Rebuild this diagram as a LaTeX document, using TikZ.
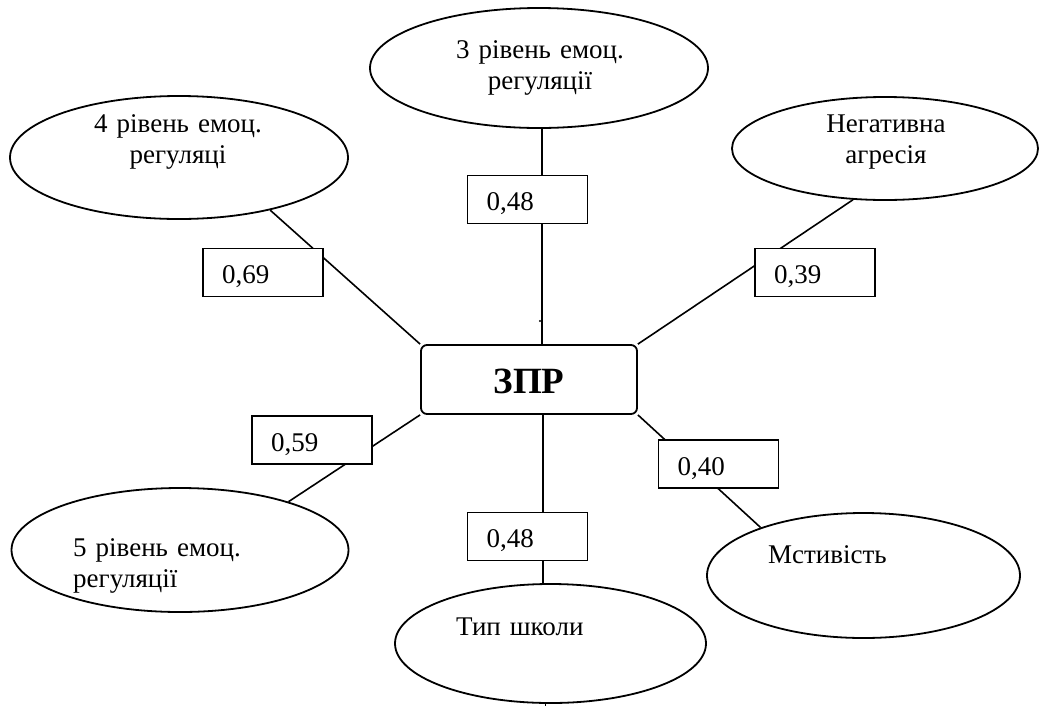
\documentclass[tikz,border=0pt]{standalone}
\usepackage{fontspec}
\setmainfont{Liberation Serif}
\usetikzlibrary{shapes.geometric}
\begin{document}
\begin{tikzpicture}[x=1pt,y=-1pt,
  oval/.style={ellipse,draw,line width=1.8pt,inner sep=0pt},
  valbox/.style={rectangle,draw,line width=1.8pt,fill=white,minimum width=120pt,minimum height=48pt,
    text width=82pt,inner xsep=19pt,inner ysep=0pt,align=left,text height=22pt,text depth=0pt,
    font=\fontsize{27}{31}\selectfont},
  etext/.style={inner sep=0pt,text width=320pt,font=\fontsize{27}{31}\selectfont},
  link/.style={line width=1.6pt}]
\useasboundingbox (0,0) rectangle (1039,705);
% ellipses
\node[oval,minimum width=338pt,minimum height=120pt] (e3) at (539,68) {};
\node[oval,minimum width=338pt,minimum height=123pt] (e4) at (179,157.5) {};
\node[oval,minimum width=306pt,minimum height=103pt] (ena) at (885,148.5) {};
\node[oval,minimum width=337pt,minimum height=124pt] (e5) at (180,550) {};
\node[oval,minimum width=313pt,minimum height=125pt] (em) at (863.5,575.5) {};
\node[oval,minimum width=311pt,minimum height=119pt] (et) at (550.5,643.5) {};
% ellipse texts
\node[etext,align=center,anchor=base] (t3) at (540,58) {3 рівень емоц.\\ регуляції};
\node[etext,align=center,anchor=base] (t4) at (178,132) {4 рівень емоц.\\ регуляці};
\node[etext,align=center,anchor=base] (tna) at (886,132) {Негативна\\ агресія};
\node[etext,align=left,anchor=base west] (t5) at (73,556.5) {5 рівень емоц.\\ регуляції};
\node[etext,align=left,anchor=base west] (tm) at (768,563) {Мстивість};
\node[etext,align=left,anchor=base west] (tt) at (456,635) {Тип школи};
% centre
\node[draw,rounded corners=6pt,line width=1.8pt,minimum width=216pt,minimum height=69pt,inner sep=0pt,
  font=\fontsize{37}{40}\selectfont\bfseries,text height=27.6pt,text depth=0pt] (zpr) at (529,379.5) {ЗПР};
% connectors
\draw[link] (e4.-30) -- (zpr.north west);
\draw[link] ([xshift=3pt]e3.south) -- ([xshift=3pt]e3.south |- zpr.north);
\draw[link] (ena.238) -- (zpr.north east);
\draw[link] (e5.24) -- (zpr.south west);
\draw[link] (zpr.south east) -- (em.155);
\draw[link] ([xshift=14pt]zpr.south) -- ([xshift=14pt]zpr.south |- et.north);
\coordinate (tickend) at ([xshift=-5pt,yshift=-4pt]et.south);
\draw[line width=1pt] ([xshift=-5pt]et.south) -- (tickend);
\node[circle,fill,inner sep=0pt,minimum size=2.2pt] (dot) at (540,321) {};
% value boxes
\node[valbox] (b69) at (263,272.5) {0,69};
\node[valbox] (b48t) at (527.5,199.5) {0,48};
\node[valbox] (b39) at (815,272.5) {0,39};
\node[valbox] (b59) at (312,440) {0,59};
\node[valbox] (b40) at (718.5,464) {0,40};
\node[valbox] (b48b) at (527.5,536.5) {0,48};
\end{tikzpicture}
\end{document}
